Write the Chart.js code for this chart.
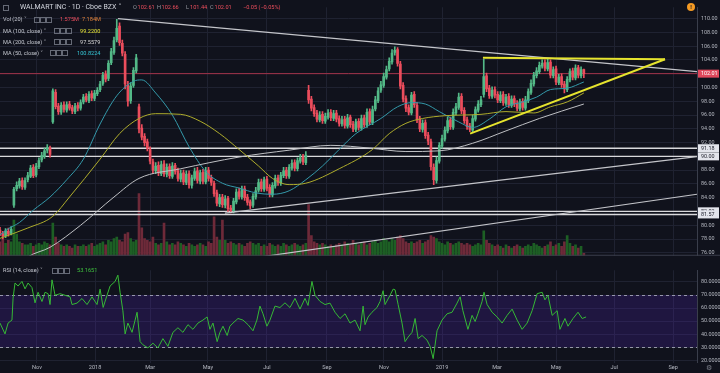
<!DOCTYPE html>
<html>
<head>
<meta charset="utf-8">
<script src="https://cdn.jsdelivr.net/npm/chart.js@4.4.1/dist/chart.umd.min.js"></script>
<style>
  body { margin: 0; background: #10121c; }
  #wrap { position: relative; width: 720px; height: 373px; overflow: hidden; background: #10121c; font-family: Roboto, "DejaVu Sans", sans-serif; }
  #main { position: absolute; left: 0; top: 0; }
  #rsi { position: absolute; left: 0; top: 263px; }
  .row { position: absolute; left: 0; height: 8px; width: 300px; font-size: 5.6px; line-height: 8px; color: #c3c6ce; white-space: nowrap; }
  .row span { position: absolute; top: 0; }
  .ic { display: inline-block; position: absolute; top: 1.5px !important; width: 4px; height: 4px; border: 1px solid #666a76; }
  .title { font-size: 7px; color: #d1d4dc; }
  .alert { position: absolute; left: 687px; top: 3px; width: 8px; height: 8px; border-radius: 50%; background: #f59a23; color: #1b1d28; font: bold 6px/8px Roboto, sans-serif; text-align: center; }
  .gear { position: absolute; left: 706px; top: 364px; font-size: 7px; color: #7c7f8a; }
</style>
</head>
<body>
<div id="wrap">
  <canvas id="main" width="720" height="263"></canvas>
  <canvas id="rsi" width="720" height="110"></canvas>

  <div class="row" style="top:3px">
    <span class="ic" style="left:3px"></span>
    <span class="title" style="left:20px;top:-0.5px">WALMART INC · 1D · Cboe BZX ˅</span>
    <span style="left:133px;color:#9598a1">O</span><span style="left:137.5px;color:#eb4d5c">102.61</span>
    <span style="left:157px;color:#9598a1">H</span><span style="left:161.5px;color:#eb4d5c">102.66</span>
    <span style="left:186px;color:#9598a1">L</span><span style="left:190px;color:#eb4d5c">101.44</span>
    <span style="left:210px;color:#9598a1">C</span><span style="left:214.5px;color:#eb4d5c">102.01</span>
    <span style="left:243px;color:#eb4d5c">−0.05 (−0.05%)</span>
  </div>
  <div class="row" style="top:15px">
    <span style="left:3px">Vol (20) ˅</span>
    <span class="ic" style="left:34px"></span><span class="ic" style="left:40px"></span><span class="ic" style="left:46px"></span>
    <span style="left:60px;color:#eb4d5c">1.575M</span><span style="left:82px;color:#e0823a">7.184M</span>
  </div>
  <div class="row" style="top:26.5px">
    <span style="left:3px">MA (100, close) ˅</span>
    <span class="ic" style="left:54px"></span><span class="ic" style="left:60px"></span><span class="ic" style="left:66px"></span>
    <span style="left:80px;color:#e4e236">99.2200</span>
  </div>
  <div class="row" style="top:37.5px">
    <span style="left:3px">MA (200, close) ˅</span>
    <span class="ic" style="left:54px"></span><span class="ic" style="left:60px"></span><span class="ic" style="left:66px"></span>
    <span style="left:80px;color:#d6d6d6">97.5579</span>
  </div>
  <div class="row" style="top:48.5px">
    <span style="left:3px">MA (50, close) ˅</span>
    <span class="ic" style="left:50px"></span><span class="ic" style="left:56px"></span><span class="ic" style="left:62px"></span>
    <span style="left:77px;color:#35c4d4">100.8224</span>
  </div>
  <div class="row" style="top:266px">
    <span style="left:3px">RSI (14, close) ˅</span>
    <span class="ic" style="left:52px"></span><span class="ic" style="left:58px"></span><span class="ic" style="left:64px"></span>
    <span style="left:77px;color:#3fc23f">53.1651</span>
  </div>
  <div class="alert">!</div>
  <div class="gear">⚙</div>
</div>

<script>
// one candle = two trading days, x is the candle index
const opens = [
  79.3, 78.8, 78.5, 79.1, 78.8, 82.9, 85.3, 85.7, 86.5, 85.5,
  86.6, 87.1, 88.4, 87.3, 88.5, 89.5, 90.0, 90.9, 91.2, 95.0,
  99.3, 97.3, 96.4, 97.5, 96.7, 97.6, 97.1, 96.5, 97.4, 97.0,
  97.9, 98.7, 98.1, 99.1, 98.4, 99.1, 99.7, 100.6, 101.9, 101.3,
  103.6, 105.1, 106.9, 108.9, 106.4, 104.8, 100.4, 98.1, 100.3, 102.4,
  97.2, 94.1, 92.9, 92.1, 91.0, 89.2, 87.9, 88.7, 87.5, 88.9,
  87.4, 88.5, 87.1, 88.7, 87.9, 86.7, 87.6, 86.2, 87.5, 85.8,
  86.8, 87.9, 86.4, 87.7, 86.3, 88.0, 86.9, 86.1, 84.7, 83.1,
  84.1, 82.9, 83.9, 82.5, 82.1, 83.4, 84.9, 84.1, 85.3, 84.1,
  83.4, 82.9, 84.1, 85.1, 86.3, 85.2, 86.7, 85.5, 84.4, 85.7,
  86.9, 86.1, 87.2, 88.0, 87.1, 88.3, 89.1, 88.2, 89.3, 89.9,
  89.1, 99.6, 98.3, 97.1, 96.3, 95.3, 96.1, 95.1, 95.7, 96.4,
  95.5, 96.3, 95.5, 94.7, 95.4, 94.4, 95.7, 94.7, 93.9, 95.1,
  94.1, 95.6, 94.5, 96.5, 94.9, 96.9, 98.1, 99.6, 100.3, 101.5,
  102.7, 103.7, 105.1, 105.5, 103.4, 100.3, 98.4, 97.1, 96.3, 99.0,
  97.4, 95.4, 93.9, 94.9, 93.1, 92.1, 88.4, 86.5, 89.3, 91.5,
  92.5, 93.7, 95.3, 94.2, 96.3, 97.1, 98.7, 96.7, 95.3, 94.4,
  93.8, 95.4, 96.7, 97.5, 99.0, 101.7, 99.9, 98.7, 99.7, 99.0,
  98.1, 99.0, 97.7, 98.7, 97.4, 98.4, 97.7, 96.9, 98.0, 97.0,
  98.1, 99.3, 100.5, 101.7, 102.3, 103.1, 103.6, 102.7, 103.7, 101.7,
  102.7, 100.7, 101.6, 100.5, 99.7, 101.1, 102.4, 101.4, 102.9, 101.7, 102.61
];
const highs = [
  79.7, 79.1, 79.5, 79.6, 79.8, 85.5, 86.3, 86.8, 86.9, 86.9,
  87.7, 88.7, 88.8, 89.0, 89.8, 90.6, 91.2, 91.7, 91.5, 99.8,
  99.7, 97.7, 97.8, 97.9, 97.9, 98.0, 97.4, 97.7, 97.8, 98.2,
  99.0, 99.1, 99.4, 99.5, 99.6, 100.0, 100.9, 102.2, 102.4, 103.9,
  105.7, 107.3, 109.9, 109.4, 106.9, 105.2, 100.9, 100.7, 102.9, 104.8,
  97.6, 94.6, 93.3, 92.5, 91.4, 89.6, 89.1, 89.2, 89.3, 89.4,
  88.9, 88.9, 89.1, 89.0, 88.3, 88.0, 88.0, 87.9, 87.9, 87.3,
  88.3, 88.4, 88.0, 88.1, 88.4, 88.4, 87.3, 86.4, 85.1, 84.5,
  84.5, 84.3, 84.2, 82.9, 83.9, 85.3, 85.4, 85.7, 85.7, 84.5,
  83.7, 84.6, 85.5, 86.7, 86.7, 87.0, 87.1, 85.9, 86.2, 87.3,
  87.3, 87.7, 88.4, 88.4, 88.8, 89.5, 89.5, 89.8, 90.3, 90.3,
  90.7, 100.3, 98.7, 97.5, 96.7, 96.5, 96.5, 96.3, 96.8, 96.8,
  96.7, 96.7, 95.9, 95.8, 95.8, 96.1, 96.0, 95.1, 95.4, 95.5,
  96.0, 96.0, 96.9, 96.9, 97.3, 98.7, 100.0, 100.9, 102.1, 103.1,
  104.3, 105.5, 105.9, 105.8, 103.8, 100.7, 98.8, 97.5, 99.3, 99.4,
  97.8, 95.8, 95.3, 95.3, 93.5, 92.5, 88.9, 89.9, 92.0, 93.1,
  94.3, 95.7, 95.7, 96.9, 97.7, 99.2, 99.1, 97.1, 95.7, 94.8,
  96.0, 97.2, 98.1, 98.7, 104.1, 102.1, 100.3, 100.1, 100.1, 99.4,
  99.4, 99.4, 99.0, 99.1, 98.8, 98.8, 98.1, 98.3, 98.4, 98.7,
  99.8, 101.1, 102.2, 102.9, 103.7, 104.0, 104.0, 104.1, 104.0, 103.0,
  103.1, 101.9, 102.0, 100.9, 101.6, 102.7, 102.8, 103.3, 103.2, 103.0, 102.66
];
const lows = [
  78.5, 78.0, 78.2, 78.4, 78.6, 82.6, 85.0, 85.4, 85.2, 85.2,
  86.3, 86.9, 86.9, 87.0, 88.2, 89.2, 89.7, 90.5, 89.9, 94.8,
  96.9, 96.1, 96.1, 96.4, 96.4, 96.7, 96.2, 96.2, 96.6, 96.7,
  97.6, 97.9, 97.8, 98.1, 98.1, 98.8, 99.4, 100.3, 100.8, 101.0,
  103.3, 104.8, 106.6, 106.1, 104.6, 99.8, 97.3, 97.7, 100.0, 102.1,
  93.4, 92.4, 91.5, 90.8, 88.9, 87.5, 87.5, 87.2, 87.2, 87.1,
  87.0, 86.8, 86.8, 87.4, 86.4, 86.3, 85.9, 85.9, 85.4, 85.4,
  86.5, 86.1, 86.0, 86.0, 86.0, 86.4, 85.8, 84.2, 82.8, 82.7,
  82.6, 82.5, 82.0, 81.8, 81.8, 83.1, 83.8, 83.8, 83.6, 82.9,
  82.4, 82.6, 83.8, 84.8, 84.9, 84.9, 85.0, 84.1, 84.1, 85.4,
  85.8, 85.8, 86.9, 86.8, 86.8, 88.0, 87.9, 87.9, 89.0, 88.8,
  88.8, 97.7, 96.6, 95.8, 95.0, 95.0, 94.8, 94.8, 95.4, 95.2,
  95.2, 95.0, 94.4, 94.4, 94.1, 94.1, 94.2, 93.6, 93.6, 93.8,
  93.8, 94.2, 94.2, 94.6, 94.6, 96.6, 97.8, 99.3, 100.0, 101.2,
  102.4, 103.4, 104.7, 103.1, 99.8, 97.9, 96.5, 96.0, 96.0, 97.1,
  94.9, 93.6, 93.5, 92.6, 91.7, 88.0, 85.9, 86.1, 89.0, 91.2,
  92.2, 93.4, 93.9, 93.9, 96.0, 96.8, 96.2, 94.8, 93.9, 93.6,
  93.5, 95.1, 96.4, 97.2, 98.6, 99.4, 98.4, 98.4, 98.5, 97.8,
  97.8, 97.4, 97.4, 97.1, 97.1, 97.2, 96.6, 96.6, 96.7, 96.7,
  97.8, 99.0, 100.2, 101.4, 102.0, 102.8, 102.4, 102.4, 101.4, 101.4,
  100.4, 100.4, 100.0, 99.2, 99.4, 100.8, 101.1, 101.1, 101.4, 101.4, 101.44
];
const closes = [
  78.9, 78.4, 79.2, 78.7, 79.4, 85.2, 85.8, 86.4, 85.6, 86.5,
  87.2, 88.3, 87.2, 88.6, 89.4, 90.1, 90.8, 91.3, 90.3, 99.5,
  97.2, 96.5, 97.4, 96.8, 97.5, 97.0, 96.6, 97.3, 97.0, 97.8,
  98.6, 98.2, 99.0, 98.5, 99.2, 99.6, 100.5, 101.8, 101.2, 103.5,
  105.2, 106.8, 108.6, 106.5, 105.0, 100.5, 98.0, 100.2, 102.5, 104.3,
  94.0, 92.8, 92.0, 91.2, 89.3, 88.0, 88.6, 87.6, 88.8, 87.5,
  88.4, 87.2, 88.6, 87.8, 86.8, 87.5, 86.3, 87.4, 85.9, 86.9,
  87.8, 86.5, 87.6, 86.4, 87.9, 86.8, 86.2, 84.6, 83.2, 84.0,
  83.0, 83.8, 82.4, 82.2, 83.5, 84.8, 84.2, 85.2, 84.0, 83.3,
  82.8, 84.2, 85.0, 86.2, 85.3, 86.6, 85.4, 84.5, 85.8, 86.8,
  86.2, 87.3, 87.9, 87.2, 88.4, 89.0, 88.3, 89.4, 89.8, 89.2,
  90.2, 98.2, 97.0, 96.2, 95.4, 96.0, 95.2, 95.8, 96.3, 95.6,
  96.2, 95.4, 94.8, 95.3, 94.5, 95.6, 94.6, 94.0, 95.0, 94.2,
  95.5, 94.6, 96.4, 95.0, 96.8, 98.2, 99.5, 100.4, 101.6, 102.6,
  103.8, 105.0, 105.4, 103.5, 100.2, 98.3, 97.0, 96.4, 98.9, 97.5,
  95.3, 94.0, 94.8, 93.0, 92.2, 88.5, 86.6, 89.4, 91.6, 92.6,
  93.8, 95.2, 94.3, 96.4, 97.2, 98.6, 96.6, 95.2, 94.3, 93.9,
  95.5, 96.8, 97.6, 98.2, 101.6, 99.8, 98.8, 99.6, 98.9, 98.2,
  98.9, 97.8, 98.6, 97.5, 98.3, 97.6, 97.0, 97.9, 97.1, 98.2,
  99.4, 100.6, 101.8, 102.4, 103.2, 103.5, 102.8, 103.6, 101.8, 102.6,
  100.8, 101.5, 100.4, 99.8, 101.2, 102.3, 101.5, 102.8, 101.8, 102.6, 102.01
];
// volume in millions
const volumes = [
  9, 11, 8, 10, 9, 23, 14, 9, 8, 7,
  7, 8, 6, 7, 8, 7, 9, 8, 7, 21,
  12, 8, 7, 6, 7, 6, 5, 7, 6, 6,
  7, 6, 7, 8, 6, 7, 8, 9, 7, 10,
  9, 11, 12, 10, 9, 14, 15, 11, 9, 10,
  40, 18, 11, 10, 9, 12, 8, 7, 8, 21,
  9, 7, 8, 7, 9, 8, 7, 6, 8, 7,
  6, 7, 8, 7, 6, 9, 8, 25, 12, 10,
  23, 10, 8, 9, 8, 7, 8, 7, 6, 8,
  9, 8, 7, 8, 6, 7, 6, 8, 7, 6,
  7, 6, 8, 7, 6, 7, 8, 7, 6, 7,
  8, 33, 13, 9, 8, 7, 8, 7, 6, 7,
  6, 7, 8, 7, 9, 8, 7, 10, 8, 7,
  8, 9, 7, 8, 9, 10, 8, 9, 11, 10,
  9, 11, 10, 12, 13, 11, 9, 8, 9, 8,
  9, 10, 8, 9, 10, 13, 12, 11, 9, 8,
  7, 9, 8, 7, 8, 9, 8, 7, 8, 7,
  6, 7, 8, 7, 16, 10, 8, 7, 6, 7,
  6, 5, 7, 6, 5, 6, 7, 6, 5, 6,
  7, 6, 8, 7, 6, 5, 6, 7, 9, 6,
  7, 8, 6, 9, 13, 8, 6, 7, 5, 6, 1.6
];

// moving averages: [candle index, price]
const ma50 = [[0, 78.6], [3, 79.5], [7, 80.4], [12, 82.2], [18, 84.1], [24, 86.6], [30, 89.6], [36, 94.7], [42, 98.8], [48, 100.9], [51, 101.1], [56, 99.2], [62, 96.0], [68, 91.4], [74, 87.8], [80, 86.1], [86, 85.4], [92, 84.7], [98, 84.5], [104, 85.0], [110, 86.6], [116, 88.6], [122, 91.0], [128, 93.3], [137, 95.5], [143, 97.2], [148, 97.8], [153, 97.6], [158, 96.5], [165, 95.0], [170, 94.2], [176, 95.4], [182, 97.2], [188, 97.9], [193, 98.6], [198, 99.7], [204, 99.9], [210, 100.8]];
const ma100 = [[0, 78.1], [10, 79.6], [19, 81.3], [25, 84.1], [36, 89.6], [43, 93.3], [50, 95.5], [56, 96.2], [65, 96.1], [72, 95.1], [79, 93.3], [86, 91.0], [93, 88.6], [98, 86.8], [104, 85.9], [110, 86.1], [122, 88.2], [134, 91.0], [140, 93.3], [146, 94.8], [152, 95.5], [160, 95.9], [173, 96.1], [182, 96.5], [192, 96.3], [198, 97.2], [204, 97.9], [210, 99.2]];
const ma200 = [[7, 74.3], [10, 75.4], [18, 76.8], [29, 80.0], [41, 84.1], [50, 86.8], [65, 88.2], [86, 89.9], [104, 90.9], [119, 91.6], [133, 91.2], [146, 90.7], [158, 90.8], [170, 91.9], [182, 93.7], [194, 95.5], [210, 97.6]];

// drawn lines: [x1, p1, x2, p2]
const trendLines = [[42.4, 110.0, 250.7, 102.3], [80.9, 81.75, 250.7, 89.95], [80, 74.6, 250.7, 84.5]];
const triangleLines = [[173.7, 104.3, 239.2, 104.1], [169.1, 93.3, 239.2, 104.1]];
const levelLines = [91.18, 90.00, 82.02, 81.57];
const lastClose = 102.01;

// RSI (14): positions and values
const rsiPos = [0, 1.8, 2.9, 4.3, 4.7, 5.4, 6.5, 7.9, 9, 10.1, 11.5, 12.6, 13.7, 15.1, 16.2, 17.3, 18, 18.7, 19.8, 21.6, 23.4, 25.2, 25.9, 27.7, 29.5, 31.3, 33.1, 34.9, 36, 37.1, 38.5, 39.6, 41.4, 42.4, 43.2, 44.2, 45, 46, 47.5, 49.3, 50.4, 51.4, 53.2, 55, 56.8, 58.6, 60.4, 62.2, 64, 65.8, 67.6, 69.4, 71.2, 73, 74.5, 75.5, 76.6, 78.1, 79.1, 80.2, 81.7, 82.7, 83.8, 85.6, 87.4, 89.2, 91, 92.4, 93.5, 94.6, 96, 97.1, 98.9, 100.7, 102.5, 104.3, 106.1, 107.9, 109.7, 110.8, 112.2, 113.3, 115.1, 116.9, 118.7, 120.5, 122.3, 124.1, 125.9, 127.7, 129.5, 130.6, 131.3, 132.4, 133.8, 135.6, 136.7, 137.8, 138.5, 140.3, 141.4, 142.1, 143.2, 144.6, 145.7, 146.8, 148.2, 149.3, 150.4, 151.8, 153.6, 154.7, 155.8, 157.2, 159, 160.8, 162.6, 164.4, 165.5, 166.5, 168.3, 169.8, 170.9, 171.9, 173.4, 174.1, 175.2, 177, 178.8, 180.6, 182.4, 184.2, 186, 187.8, 189.6, 191.4, 193.2, 195, 196, 197.1, 198.6, 200.4, 201.4, 203.2, 204.3, 206.1, 207.9, 209.4, 210.8];
const rsiVal = [48.5, 40.2, 48.5, 50.8, 67.6, 79.2, 76.9, 80.4, 74.7, 79.2, 75.7, 64, 72.1, 65, 72.1, 71, 62.7, 81.6, 69.8, 71, 69.8, 68.6, 62.7, 63.8, 67.3, 62.7, 68.6, 62.7, 74.5, 60.5, 69.8, 76.9, 80.4, 85.2, 72.1, 57.9, 40.2, 48.5, 41.4, 56.8, 34.3, 31.9, 29.5, 33.1, 29.5, 36.6, 30.7, 41.4, 44.9, 41.4, 47.3, 43.7, 48.5, 50.8, 53.2, 43.7, 48.5, 34.3, 41.4, 46.1, 39, 46.1, 48.5, 52, 50.8, 47.3, 42.6, 50.8, 61.5, 55.6, 46.1, 50.8, 61.5, 60.4, 64, 60.4, 67.4, 59.2, 67.4, 62, 80.4, 69.8, 65.1, 62.7, 63.8, 56.8, 52, 55.6, 48.5, 50.8, 42.6, 61.5, 47.3, 53.2, 56.8, 60.4, 65.1, 73.3, 62.7, 69.8, 74.5, 74, 62.7, 48.5, 34.3, 37.8, 41.4, 52, 36.6, 39, 35.4, 30.7, 21.3, 42.6, 50.8, 55.6, 56.8, 63.8, 68.6, 58, 43.7, 54.4, 49.7, 55.6, 65.1, 72.1, 62.7, 56.8, 53.2, 48.5, 54.4, 59.2, 50.8, 43.7, 48.5, 58, 71, 72.1, 66.3, 69.8, 54.4, 58, 43.7, 52, 46.1, 52, 56.8, 52, 53.2];
const rsiBand = [30, 70];

const monthTicks = [13.3, 34.2, 54, 74.8, 96, 117.6, 138.1, 159, 178.8, 200, 220.9, 242.1];
const monthLabels = ["Nov", "2018", "Mar", "May", "Jul", "Sep", "Nov", "2019", "Mar", "May", "Jul", "Sep"];
const priceTicks = [76, 78, 80, 82, 84, 86, 88, 90, 92, 94, 96, 98, 100, 102, 104, 106, 108, 110];
const rsiTicks = [20, 30, 40, 50, 60, 70, 80];

const X_MAX = 250.7;
const UP = "#53b987";
const DOWN = "#eb4d5c";
const GRID = "#1f2231";
const AXIS_TEXT = "#b4b7c0";

Chart.defaults.font.family = "Roboto, 'DejaVu Sans', sans-serif";

function pairs(list) {
  return list.map(([x, y]) => ({ x, y }));
}

function segment([x1, y1, x2, y2]) {
  return [{ x: x1, y: y1 }, { x: x2, y: y2 }];
}

function lineSet(data, color, width, order, extra) {
  return Object.assign({
    type: "line",
    data,
    borderColor: color,
    borderWidth: width,
    pointRadius: 0,
    fill: false,
    order
  }, extra || {});
}

function xAxis(showLabels) {
  return {
    type: "linear",
    min: 0,
    max: X_MAX,
    offset: false,
    afterBuildTicks: (axis) => { axis.ticks = monthTicks.map((v) => ({ value: v })); },
    afterFit: (axis) => { axis.height = showLabels ? 10 : 0; },
    ticks: {
      display: showLabels,
      autoSkip: false,
      maxRotation: 0,
      padding: 1,
      color: AXIS_TEXT,
      font: { size: 5.6 },
      callback: (value, index) => monthLabels[index]
    },
    grid: { color: GRID, drawTicks: false, offset: false },
    border: { display: false }
  };
}

function yAxis(min, max, ticks, digits) {
  return {
    position: "right",
    min,
    max,
    beginAtZero: false,
    afterBuildTicks: (axis) => { axis.ticks = ticks.map((v) => ({ value: v })); },
    afterFit: (axis) => { axis.width = 23; },
    ticks: { color: AXIS_TEXT, font: { size: 5.4 }, padding: 4, callback: (v) => v.toFixed(digits) },
    grid: { color: GRID, drawTicks: false },
    border: { color: "#3a3e4b" }
  };
}

const priceTags = {
  id: "priceTags",
  afterDraw(chart) {
    const { ctx, chartArea, scales } = chart;
    ctx.save();
    ctx.strokeStyle = "#3a3e4b";
    ctx.lineWidth = 1;
    ctx.beginPath();
    ctx.moveTo(0, chartArea.bottom - 0.5);
    ctx.lineTo(720, chartArea.bottom - 0.5);
    ctx.stroke();

    const tag = (value, bg, fg) => {
      const py = scales.y.getPixelForValue(value);
      ctx.fillStyle = bg;
      ctx.fillRect(chartArea.right + 1, py - 4, 21, 8);
      ctx.fillStyle = fg;
      ctx.font = "5.4px Roboto, sans-serif";
      ctx.textBaseline = "middle";
      ctx.fillText(value.toFixed(2), chartArea.right + 4, py + 0.5);
    };
    levelLines.forEach((v) => tag(v, "#e3e5ec", "#1b1d28"));
    tag(lastClose, "#e0485c", "#ffffff");
    ctx.restore();
  }
};

const bandPlugin = {
  id: "rsiBand",
  beforeDatasetsDraw(chart) {
    const { ctx, chartArea, scales } = chart;
    const top = scales.y.getPixelForValue(rsiBand[1]);
    const bottom = scales.y.getPixelForValue(rsiBand[0]);
    ctx.save();
    ctx.fillStyle = "rgba(78, 34, 170, 0.26)";
    ctx.fillRect(chartArea.left, top, chartArea.right - chartArea.left, bottom - top);
    ctx.strokeStyle = "rgba(190, 192, 204, 0.75)";
    ctx.setLineDash([3, 3]);
    ctx.lineWidth = 1;
    [top, bottom].forEach((py) => {
      ctx.beginPath();
      ctx.moveTo(chartArea.left, Math.round(py) + 0.5);
      ctx.lineTo(chartArea.right, Math.round(py) + 0.5);
      ctx.stroke();
    });
    ctx.restore();
  }
};

function setupMainChart() {
  const candleColors = closes.map((c, i) => (c >= opens[i] ? UP : DOWN));
  const volumeColors = closes.map((c, i) => (c >= opens[i] ? "#1d5f24" : "#6e2a39"));

  const datasets = [
    {
      type: "bar",
      yAxisID: "yVol",
      data: volumes.map((v, i) => ({ x: i, y: v })),
      backgroundColor: volumeColors,
      barThickness: 2,
      grouped: false,
      order: 20
    },
    {
      type: "bar",
      data: lows.map((l, i) => ({ x: i, y: [l, highs[i]] })),
      backgroundColor: candleColors,
      barThickness: 1,
      grouped: false,
      order: 6
    },
    {
      type: "bar",
      data: opens.map((o, i) => ({ x: i, y: [o, closes[i]] })),
      backgroundColor: candleColors,
      barThickness: 2,
      minBarLength: 1,
      grouped: false,
      order: 5
    },
    lineSet(pairs(ma100), "#aeac2c", 1, 4, { cubicInterpolationMode: "monotone" }),
    lineSet(pairs(ma200), "#bfc0c4", 1, 4, { cubicInterpolationMode: "monotone" }),
    lineSet(pairs(ma50), "#3499aa", 1, 4, { cubicInterpolationMode: "monotone" }),
    lineSet(segment([0, lastClose, X_MAX, lastClose]), "#a3334a", 1, 8)
  ];

  levelLines.forEach((v) => datasets.push(lineSet(segment([0, v, X_MAX, v]), "#d9d9dc", 1.4, 7)));
  trendLines.forEach((t) => datasets.push(lineSet(segment(t), "#c4c5ca", 1.2, 3)));
  triangleLines.forEach((t) => datasets.push(lineSet(segment(t), "#e6e42e", 2, 1)));

  new Chart(document.getElementById("main"), {
    type: "bar",
    data: { datasets },
    options: {
      responsive: false,
      animation: false,
      events: [],
      layout: { padding: 0 },
      plugins: { legend: { display: false }, tooltip: { enabled: false } },
      scales: {
        x: xAxis(false),
        y: yAxis(75.57, 111.65, priceTicks, 2),
        yVol: { display: false, min: 0, max: 160 }
      }
    },
    plugins: [priceTags]
  });
}

function setupRsiChart() {
  new Chart(document.getElementById("rsi"), {
    type: "line",
    data: {
      datasets: [
        lineSet(rsiPos.map((x, i) => ({ x, y: rsiVal[i] })), "#36b936", 1, 1)
      ]
    },
    options: {
      responsive: false,
      animation: false,
      events: [],
      layout: { padding: 0 },
      plugins: { legend: { display: false }, tooltip: { enabled: false } },
      scales: {
        x: xAxis(true),
        y: yAxis(17.92, 88.97, rsiTicks, 4)
      }
    },
    plugins: [bandPlugin]
  });
}

setupMainChart();
setupRsiChart();
</script>
</body>
</html>
